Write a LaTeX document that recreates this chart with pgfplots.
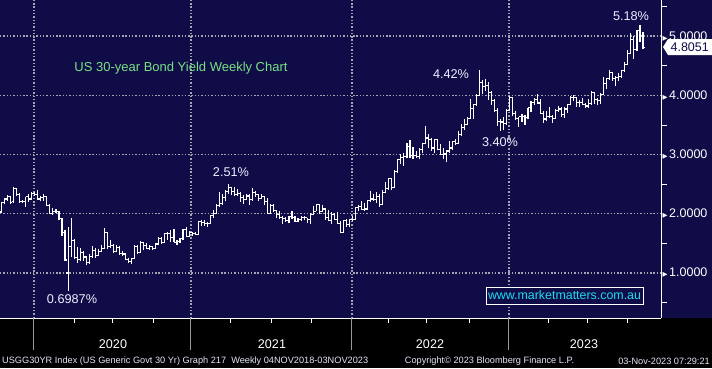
\documentclass[border=0pt]{standalone}
\usepackage{pgfplots}
\pgfplotsset{compat=1.18}
\usepackage{pgfplotstable}
\usepackage{fontspec}
\setmainfont{Liberation Sans}
\newfontfamily\dejavu{DejaVu Sans}
\definecolor{navy}{RGB}{15,12,72}
\definecolor{gridc}{RGB}{165,165,178}
\definecolor{titlec}{RGB}{120,225,130}
\definecolor{annc}{RGB}{238,238,255}
\definecolor{cyanc}{RGB}{30,220,240}
\definecolor{footc}{RGB}{225,230,248}
\pgfdeclareplotmark{ohlcopen}{\pgfpathmoveto{\pgfqpoint{-\pgfplotmarksize}{0pt}}\pgfpathlineto{\pgfqpoint{0pt}{0pt}}\pgfusepathqstroke}
\pgfdeclareplotmark{ohlcclose}{\pgfpathmoveto{\pgfqpoint{0pt}{0pt}}\pgfpathlineto{\pgfqpoint{\pgfplotmarksize}{0pt}}\pgfusepathqstroke}
\pgfplotstableread{
w o h l c
-12 2.03 2.20 2.01 2.19
-11 2.19 2.27 2.16 2.25
-10 2.25 2.32 2.22 2.29
-9 2.29 2.30 2.17 2.19
-8 2.20 2.45 2.19 2.43
-7 2.42 2.44 2.30 2.33
-6 2.33 2.35 2.18 2.21
-5 2.21 2.24 2.18 2.21
-4 2.21 2.29 2.12 2.29
-3 2.29 2.33 2.20 2.25
-2 2.25 2.36 2.24 2.35
-1 2.35 2.36 2.30 2.33
0 2.33 2.40 2.24 2.25
1 2.25 2.30 2.21 2.28
2 2.28 2.33 2.22 2.29
3 2.29 2.30 2.13 2.14
4 2.14 2.16 1.99 2.00
5 2.00 2.10 1.98 2.04
6 2.04 2.08 2.02 2.04
7 2.04 2.05 1.89 1.92
8 1.92 1.93 1.63 1.68
9 1.68 1.72 1.20 1.22
10 1.00 1.78 0.70 1.45
11 1.45 1.93 1.27 1.55
12 1.55 1.58 1.23 1.26
13 1.26 1.44 1.17 1.23
14 1.23 1.42 1.20 1.35
15 1.35 1.37 1.21 1.27
16 1.27 1.28 1.13 1.17
17 1.17 1.32 1.15 1.28
18 1.28 1.45 1.26 1.38
19 1.38 1.43 1.26 1.30
20 1.30 1.40 1.28 1.37
21 1.37 1.47 1.35 1.41
22 1.41 1.76 1.40 1.68
23 1.68 1.70 1.40 1.44
24 1.44 1.56 1.43 1.46
25 1.46 1.49 1.33 1.37
26 1.37 1.47 1.35 1.43
27 1.43 1.45 1.30 1.33
28 1.33 1.37 1.29 1.32
29 1.32 1.34 1.22 1.23
30 1.23 1.25 1.17 1.19
31 1.19 1.25 1.16 1.25
32 1.25 1.48 1.24 1.45
33 1.45 1.47 1.32 1.35
34 1.35 1.54 1.34 1.52
35 1.52 1.53 1.38 1.47
36 1.47 1.50 1.40 1.42
37 1.42 1.47 1.39 1.45
38 1.45 1.46 1.39 1.41
39 1.41 1.51 1.40 1.49
40 1.49 1.61 1.48 1.58
41 1.58 1.60 1.49 1.51
42 1.51 1.68 1.50 1.66
43 1.66 1.69 1.56 1.66
44 1.66 1.73 1.52 1.60
45 1.60 1.74 1.52 1.52
46 1.52 1.56 1.48 1.53
47 1.53 1.59 1.50 1.58
48 1.58 1.75 1.56 1.73
49 1.73 1.77 1.60 1.62
50 1.62 1.71 1.61 1.69
51 1.69 1.70 1.63 1.66
52 1.66 1.70 1.64 1.65
53 1.65 1.88 1.64 1.87
54 1.87 1.90 1.79 1.85
55 1.85 1.90 1.80 1.84
56 1.84 1.86 1.77 1.83
57 1.83 1.98 1.82 1.97
58 1.97 2.06 1.93 2.01
59 2.01 2.17 2.00 2.14
60 2.14 2.37 2.12 2.17
61 2.17 2.33 2.15 2.28
62 2.28 2.40 2.21 2.38
63 2.38 2.51 2.34 2.44
64 2.44 2.46 2.31 2.37
65 2.37 2.45 2.30 2.33
66 2.33 2.42 2.30 2.34
67 2.34 2.37 2.20 2.28
68 2.28 2.31 2.17 2.24
69 2.24 2.33 2.23 2.30
70 2.30 2.33 2.14 2.24
71 2.24 2.43 2.22 2.36
72 2.36 2.38 2.28 2.33
73 2.33 2.34 2.21 2.26
74 2.26 2.33 2.25 2.29
75 2.29 2.30 2.15 2.21
76 2.21 2.27 1.99 2.01
77 2.01 2.16 2.01 2.14
78 2.14 2.17 2.03 2.05
79 2.05 2.07 1.93 1.99
80 1.99 2.05 1.92 1.93
81 1.93 1.96 1.82 1.92
82 1.92 1.95 1.86 1.89
83 1.89 1.96 1.84 1.95
84 1.95 2.04 1.91 1.93
85 1.93 1.96 1.86 1.87
86 1.87 1.93 1.86 1.91
87 1.91 1.96 1.88 1.94
88 1.94 1.97 1.89 1.93
89 1.93 1.93 1.84 1.91
90 1.91 2.01 1.82 1.99
91 1.99 2.13 1.98 2.04
92 2.04 2.17 2.04 2.16
93 2.16 2.17 2.00 2.04
94 2.04 2.14 2.03 2.08
95 2.08 2.10 1.90 1.93
96 1.93 2.06 1.87 1.89
97 1.89 2.03 1.82 1.99
98 1.99 2.02 1.90 1.91
99 1.91 2.03 1.82 1.83
100 1.83 1.87 1.67 1.69
101 1.69 1.89 1.68 1.88
102 1.88 1.91 1.78 1.82
103 1.82 1.90 1.77 1.90
104 1.90 1.97 1.87 1.90
105 1.90 2.12 1.90 2.11
106 2.11 2.15 2.05 2.12
107 2.12 2.21 2.06 2.07
108 2.07 2.19 2.04 2.08
109 2.08 2.24 2.06 2.23
110 2.23 2.38 2.20 2.25
111 2.25 2.33 2.22 2.24
112 2.24 2.36 2.19 2.29
113 2.29 2.34 2.12 2.16
114 2.16 2.40 2.15 2.36
115 2.36 2.53 2.35 2.42
116 2.42 2.61 2.41 2.60
117 2.60 2.61 2.40 2.44
118 2.44 2.74 2.43 2.72
119 2.72 2.93 2.69 2.92
120 2.92 3.01 2.84 2.95
121 2.95 3.02 2.81 2.96
122 2.96 3.20 2.94 3.13
123 3.13 3.24 2.95 2.99
124 2.99 3.13 2.93 2.99
125 2.99 3.06 2.94 2.97
126 2.97 3.11 2.92 3.09
127 3.09 3.20 3.03 3.19
128 3.19 3.49 3.18 3.28
129 3.28 3.34 3.11 3.26
130 3.26 3.28 3.06 3.11
131 3.11 3.26 3.02 3.26
132 3.26 3.27 3.07 3.09
133 3.09 3.18 2.99 3.00
134 3.00 3.11 2.93 3.01
135 3.01 3.06 2.87 3.06
136 3.06 3.23 3.02 3.11
137 3.11 3.23 3.08 3.22
138 3.22 3.26 3.16 3.19
139 3.19 3.39 3.18 3.34
140 3.34 3.52 3.31 3.45
141 3.45 3.60 3.42 3.51
142 3.51 3.64 3.50 3.61
143 3.61 3.93 3.60 3.78
144 3.78 3.86 3.60 3.85
145 3.85 4.02 3.82 4.00
146 4.00 4.42 3.99 4.21
147 4.21 4.26 4.02 4.15
148 4.15 4.28 4.08 4.17
149 4.17 4.23 3.92 4.05
150 4.05 4.08 3.83 3.92
151 3.92 3.94 3.72 3.74
152 3.74 3.79 3.49 3.56
153 3.56 3.60 3.40 3.55
154 3.55 3.63 3.41 3.53
155 3.53 3.77 3.50 3.74
156 3.74 3.99 3.73 3.96
157 3.96 3.97 3.65 3.69
158 3.69 3.74 3.58 3.61
159 3.61 3.64 3.47 3.65
160 3.65 3.69 3.55 3.64
161 3.64 3.66 3.50 3.63
162 3.63 3.79 3.60 3.79
163 3.79 3.91 3.72 3.88
164 3.88 3.95 3.83 3.93
165 3.93 4.03 3.85 3.87
166 3.87 3.94 3.69 3.70
167 3.70 3.73 3.53 3.60
168 3.60 3.74 3.56 3.64
169 3.64 3.80 3.61 3.65
170 3.65 3.66 3.53 3.61
171 3.61 3.77 3.60 3.74
172 3.74 3.82 3.72 3.77
173 3.77 3.81 3.64 3.68
174 3.68 3.80 3.62 3.77
175 3.77 3.85 3.71 3.85
176 3.85 3.99 3.84 3.96
177 3.96 4.01 3.90 3.96
178 3.96 3.98 3.80 3.88
179 3.88 3.92 3.80 3.88
180 3.88 3.95 3.83 3.84
181 3.84 3.87 3.78 3.82
182 3.82 3.94 3.79 3.86
183 3.86 4.08 3.84 4.05
184 4.05 4.06 3.86 3.93
185 3.93 3.96 3.84 3.91
186 3.91 4.04 3.86 4.02
187 4.02 4.31 4.00 4.20
188 4.20 4.29 4.10 4.28
189 4.28 4.42 4.26 4.38
190 4.38 4.39 4.25 4.29
191 4.29 4.33 4.15 4.30
192 4.30 4.37 4.25 4.32
193 4.32 4.43 4.29 4.42
194 4.42 4.56 4.39 4.52
195 4.52 4.77 4.51 4.70
196 4.70 5.05 4.69 4.95
197 4.95 5.00 4.61 4.78
198 4.78 5.11 4.75 5.09
199 5.09 5.18 4.90 5.01
200 5.01 5.07 4.78 4.8051
}\ohlc
\begin{document}
\begin{tikzpicture}
\useasboundingbox (0,0) rectangle (712pt,368pt);
\fill[black] (0,0) rectangle (712pt,50pt);
\fill[navy] (0,50pt) rectangle (712pt,368pt);
\begin{axis}[
  at={(0pt,50pt)}, anchor=south west,
  scale only axis, width=661pt, height=318pt,
  xmin=-12.49, xmax=205.95, ymin=0.24, ymax=5.61,
  axis x line*=bottom, axis y line*=right,
  axis line style={white, line width=1pt, -},
  xtick={-1.26,50.6,103.8,155.7}, xticklabels={},
  ytick={1,2,3,4,5},
  yticklabel style={anchor=west, xshift=1.5pt, inner sep=0pt, text=white,
    font=\fontsize{12.5}{13}\selectfont},
  yticklabel={{\dejavu\fontsize{6.5}{6.5}\selectfont ▶}\kern1.5pt\pgfmathprintnumber[fixed,fixed zerofill,precision=4,assume math mode=true]{\tick}},
  xmajorgrids, ymajorgrids,
  major grid style={draw=gridc, line width=1.4pt, dash pattern=on 1.4pt off 1.9pt},
  major tick length=0pt, minor tick length=0pt,
  clip=false,
]
% high-low ranges
\addplot[draw=none, mark=none,
  error bars/.cd, y dir=plus, y explicit, error mark=none,
  error bar style={draw=white, line width=1.1pt, solid}]
  table[x=w, y=l, y error expr=\thisrow{h}-\thisrow{l}] {\ohlc};
% opens
\addplot[white, only marks, mark=ohlcopen, mark size=1.9pt, mark options={line width=1.1pt, draw=white}]
  table[x=w, y=o] {\ohlc};
% closes
\addplot[white, only marks, mark=ohlcclose, mark size=1.9pt, mark options={line width=1.1pt, draw=white}]
  table[x=w, y=c] {\ohlc};
% x ticks
\pgfplotsinvokeforeach{11.96,24.8,38.1,63.8,77.1,90.3,115.8,128.6,142.8,168.6,181.8,194.7}{
  \draw[white, line width=0.9pt] (axis cs:#1,0.24) -- ++(0pt,-5pt);
}
\pgfplotsinvokeforeach{-1.26,50.6,103.8,155.7}{
  \draw[gray!80, line width=1pt] (axis cs:#1,0.24) -- ++(0pt,-32pt);
}
% y minor ticks
\pgfplotsinvokeforeach{0.5,1.5,2.5,3.5,4.5,5.5}{
  \draw[white, line width=0.9pt] (axis cs:205.95,#1) -- ++(6pt,0pt);
}
\end{axis}
% year labels
\begin{scope}[every node/.style={text=white, font=\fontsize{12.6}{13}\selectfont}]
\node at (113pt,24pt) {2020};
\node at (272pt,24pt) {2021};
\node at (430pt,24pt) {2022};
\node at (584pt,24pt) {2023};
\end{scope}
% title
\node[text=titlec, font=\fontsize{13}{14}\selectfont] at (181pt,300pt) {US 30-year Bond Yield Weekly Chart};
% annotations
\begin{scope}[every node/.style={text=annc, font=\fontsize{12.7}{13}\selectfont}]
\node at (231pt,196pt) {2.51\%};
\node at (72pt,69pt) {0.6987\%};
\node at (451pt,294pt) {4.42\%};
\node at (500pt,226pt) {3.40\%};
\node at (631pt,352pt) {5.18\%};
\end{scope}
% last value box
\fill[white] (663pt,321pt) -- (668pt,329pt) -- (712pt,329pt) -- (712pt,313pt) -- (668pt,313pt) -- cycle;
\node[text=navy, font=\fontsize{12.5}{13}\selectfont, anchor=east, inner sep=0pt] at (709pt,321pt) {4.8051};
% website box
\draw[white, line width=1pt, fill=navy] (486pt,64pt) rectangle (643pt,81pt);
\node[text=cyanc, font=\fontsize{12.4}{13}\selectfont, inner sep=0pt] at (564.5pt,72.5pt) {www.marketmatters.com.au};
% footer
\begin{scope}[every node/.style={text=footc, font=\fontsize{9.2}{10}\selectfont, inner sep=0pt}]
\node[anchor=west] at (2pt,7pt) {USGG30YR Index (US Generic Govt 30 Yr) Graph 217\ \ Weekly 04NOV2018-03NOV2023};
\node at (489.5pt,7pt) {Copyright© 2023 Bloomberg Finance L.P.};
\node[anchor=east] at (710pt,7pt) {03-Nov-2023 07:29:21};
\end{scope}
\end{tikzpicture}
\end{document}
